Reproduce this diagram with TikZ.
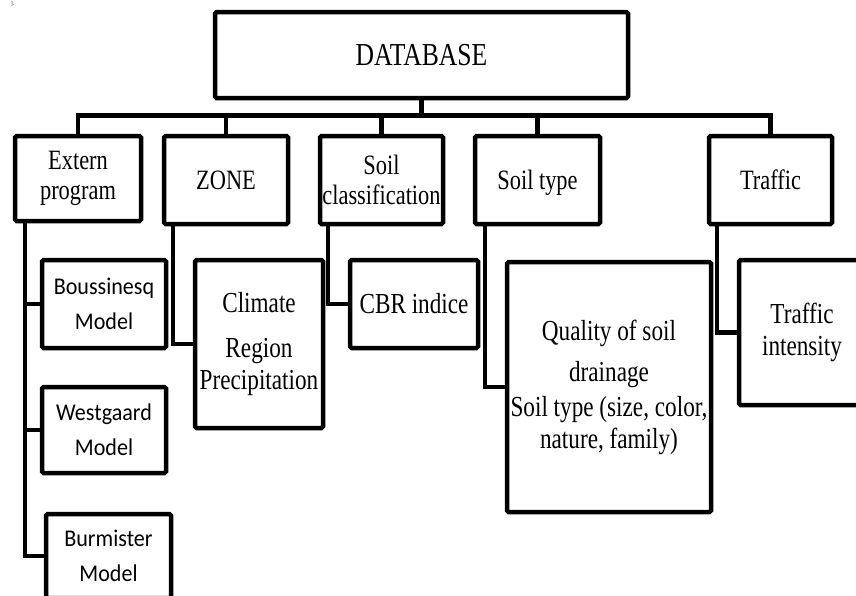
\documentclass[tikz,border=0pt]{standalone}
\usepackage{fontspec}
\setmainfont{Liberation Serif}[FakeStretch=0.8]
\newfontfamily\calib{Carlito}[FakeStretch=0.92]
\begin{document}
\begin{tikzpicture}[x=1pt,y=-1pt,
  box/.style={draw, line width=4.5pt, rounded corners=1.5pt, inner sep=0pt, align=center},
  link/.style={line width=4.5pt},
  lone/.style={font=\fontsize{28}{30}\selectfont},
  ltwo/.style={font=\fontsize{29}{32}\selectfont},
  lsans/.style={font=\calib\fontsize{24}{35}\selectfont}]
\useasboundingbox (0,0) rectangle (856,595);
\clip (0,0) rectangle (856,595);
\node[font=\fontsize{6}{6}\selectfont, anchor=base west, inner sep=0pt] (frag) at (11,5.5) {].};
% top
\node[box, minimum width=413pt, minimum height=86pt, font=\fontsize{32}{36}\selectfont] (db) at (421.5,55) {DATABASE};
% level 1
\node[box, lone, minimum width=126pt, minimum height=85pt] (ext) at (78,178.5) {Extern\\program};
\node[box, lone, minimum width=124pt, minimum height=88pt] (zone) at (226,180) {ZONE};
\node[box, lone, minimum width=123pt, minimum height=88pt] (scl) at (381.5,180) {Soil\\classification};
\node[box, lone, minimum width=125pt, minimum height=88pt, text depth=0pt] (styp) at (537.5,180) {Soil type};
\node[box, lone, minimum width=123pt, minimum height=88pt] (traf) at (770.5,180) {Traffic};
% level 2
\node[box, lsans, minimum width=124pt, minimum height=88pt] (bous) at (104,304) {Boussinesq\\Model};
\node[box, lsans, minimum width=124pt, minimum height=86pt] (west) at (104,430) {Westgaard\\Model};
\node[box, lsans, minimum width=125pt, minimum height=84pt] (burm) at (108.5,556) {Burmister\\Model};
\node[box, ltwo, minimum width=128pt, minimum height=168pt] (clim) at (259,344) {Climate\\[13pt]Region\\Precipitation};
\node[box, ltwo, minimum width=128pt, minimum height=88pt] (cbr) at (414,304) {CBR indice};
\node[box, ltwo, minimum width=204pt, minimum height=250pt] (qual) at (609,387) {Quality of soil\\[9pt]drainage\\[3pt]Soil type (size, color,\\nature, family)};
\node[box, ltwo, minimum width=126pt, minimum height=145pt] (ti) at (802,332.5) {Traffic\\intensity};
% connectors
\coordinate (busy) at (0,115.5);
\foreach \c in {ext,zone,scl,styp,traf}
  \draw[link] (db.south) -- (db.south |- busy) -| (\c.north);
\draw[link] ([xshift=12pt]ext.south west) |- (bous.west);
\draw[link] ([xshift=12pt]ext.south west) |- (west.west);
\draw[link] ([xshift=12pt]ext.south west) |- (burm.west);
\draw[link] ([xshift=11pt]zone.south west) |- (clim.west);
\draw[link] ([xshift=10pt]scl.south west) |- (cbr.west);
\draw[link] ([xshift=12pt]styp.south west) |- (qual.west);
\draw[link] ([xshift=10pt]traf.south west) |- (ti.west);
\end{tikzpicture}
\end{document}
